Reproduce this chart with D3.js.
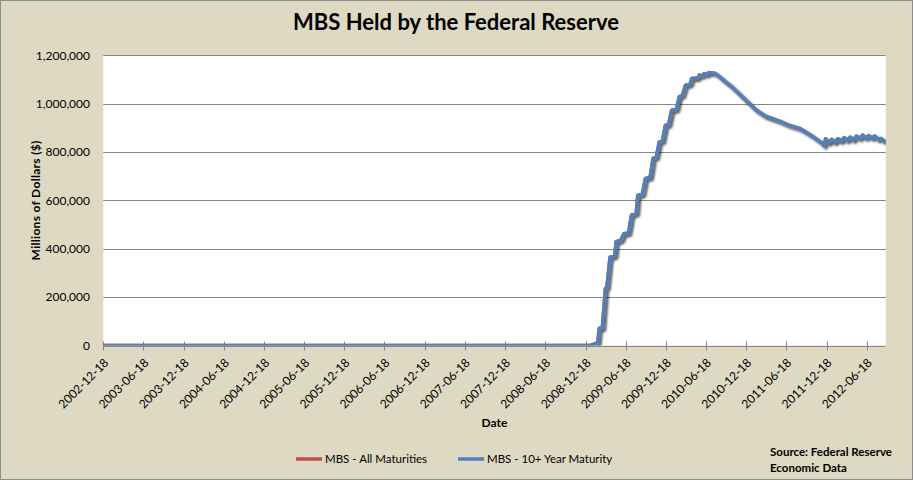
<!DOCTYPE html>
<html lang="en">
<head>
  <meta charset="UTF-8">
  <title>MBS Held by the Federal Reserve</title>
  <style>
    html, body { margin: 0; padding: 0; background: #DDD9C3; }
    svg { display: block; }
    text { font-family: Lato, "Open Sans", sans-serif; fill: #000; }
  </style>
</head>
<body>
  <div id="chart"></div>

  <script src="https://d3js.org/d3.v7.min.js"></script>
  <script>
    // Weekly H.4.1 readings (millions of $), corners
    const dates = [
      "2002-12-18", "2009-01-07", "2009-02-04", "2009-02-11", "2009-02-18",
      "2009-03-04", "2009-03-18", "2009-03-25", "2009-04-08", "2009-04-29",
      "2009-05-06", "2009-05-27", "2009-06-10", "2009-07-01", "2009-07-15",
      "2009-08-05", "2009-08-12", "2009-09-02", "2009-09-16", "2009-10-07",
      "2009-10-21", "2009-11-04", "2009-11-18", "2009-12-02", "2009-12-16",
      "2009-12-30", "2010-01-13", "2010-02-03", "2010-02-17", "2010-03-03",
      "2010-03-17", "2010-04-07", "2010-04-14", "2010-05-12", "2010-05-19",
      "2010-06-02", "2010-06-09", "2010-06-23", "2010-06-30", "2010-07-14",
      "2010-07-28", "2010-08-18", "2010-09-15", "2010-10-13", "2010-11-17",
      "2010-12-29", "2011-02-02", "2011-03-16", "2011-05-18", "2011-06-29",
      "2011-08-17", "2011-10-19", "2011-11-30", "2011-12-07", "2011-12-14",
      "2011-12-28", "2012-01-11", "2012-01-25", "2012-02-08", "2012-02-22",
      "2012-03-07", "2012-03-21", "2012-04-04", "2012-04-18", "2012-05-02",
      "2012-05-16", "2012-05-30", "2012-06-13", "2012-06-27", "2012-07-11",
      "2012-07-25", "2012-08-08", "2012-08-22", "2012-09-05", "2012-09-12"
    ];

    const mbsTenPlus = [
      0, 0, 9000, 10000, 71000,
      71000, 236000, 240000, 365000, 370000,
      429000, 435000, 462000, 465000, 540000,
      546000, 620000, 625000, 691000, 695000,
      775000, 778000, 842000, 845000, 911000,
      913000, 973000, 976000, 1028000, 1035000,
      1076000, 1080000, 1104000, 1106000, 1118000,
      1115000, 1124000, 1120000, 1128000, 1127000,
      1126000, 1112000, 1090000, 1070000, 1040000,
      1003000, 973000, 948000, 928000, 911000,
      898000, 863000, 835000, 826000, 855000,
      838000, 852000, 840000, 855000, 845000,
      860000, 848000, 862000, 850000, 866000,
      856000, 870000, 858000, 868000, 858000,
      866000, 852000, 856000, 845000, 842000
    ];

    // all maturities sits exactly under the 10+ year line in the picture
    const mbsAll = [
      0, 0, 9000, 10000, 71000,
      71000, 236000, 240000, 365000, 370000,
      429000, 435000, 462000, 465000, 540000,
      546000, 620000, 625000, 691000, 695000,
      775000, 778000, 842000, 845000, 911000,
      913000, 973000, 976000, 1028000, 1035000,
      1076000, 1080000, 1104000, 1106000, 1118000,
      1115000, 1124000, 1120000, 1128000, 1127000,
      1126000, 1112000, 1090000, 1070000, 1040000,
      1003000, 973000, 948000, 928000, 911000,
      898000, 863000, 835000, 826000, 855000,
      838000, 852000, 840000, 855000, 845000,
      860000, 848000, 862000, 850000, 866000,
      856000, 870000, 858000, 868000, 858000,
      866000, 852000, 856000, 845000, 842000
    ];

    const xTickLabels = [
      "2002-12-18", "2003-06-18", "2003-12-18", "2004-06-18", "2004-12-18",
      "2005-06-18", "2005-12-18", "2006-06-18", "2006-12-18", "2007-06-18",
      "2007-12-18", "2008-06-18", "2008-12-18", "2009-06-18", "2009-12-18",
      "2010-06-18", "2010-12-18", "2011-06-18", "2011-12-18", "2012-06-18"
    ];

    const yTicks = [0, 200000, 400000, 600000, 800000, 1000000, 1200000];

    const seriesNames = ["MBS - All Maturities", "MBS - 10+ Year Maturity"];
    const seriesColors = ["#C0504D", "#4F81BD"];

    // Layout
    const W = 913, H = 480;
    const plot = {left: 103.3, right: 885.7, top: 55.3, bottom: 345.5};

    const parse = d3.timeParse("%Y-%m-%d");

    const x = d3.scaleTime()
                .domain([parse(dates[0]), parse(dates[dates.length - 1])])
                .range([plot.left, plot.right]);
    const y = d3.scaleLinear()
                .domain([0, 1200000])
                .range([plot.bottom, plot.top]);

    const svg = d3.select("#chart").append("svg")
                  .attr("width", W)
                  .attr("height", H);

    // Chart area + border
    svg.append("rect")
       .attr("x", 0.5).attr("y", 0.5)
       .attr("width", W - 1).attr("height", H - 1)
       .attr("fill", "#DDD9C3")
       .attr("stroke", "#8C8C8C");

    const defs = svg.append("defs");
    defs.append("clipPath").attr("id", "plot-clip")
        .append("rect")
        .attr("x", plot.left).attr("y", plot.top - 10)
        .attr("width", plot.right - plot.left)
        .attr("height", plot.bottom - plot.top + 10);
    const shadow = defs.append("filter").attr("id", "shadow")
                       .attr("x", "-5%").attr("y", "-5%")
                       .attr("width", "110%").attr("height", "110%");
    shadow.append("feDropShadow")
          .attr("dx", 2).attr("dy", 2)
          .attr("stdDeviation", 1.2)
          .attr("flood-color", "#000")
          .attr("flood-opacity", 0.4);

    // Plot area
    svg.append("rect")
       .attr("x", plot.left).attr("y", plot.top)
       .attr("width", plot.right - plot.left)
       .attr("height", plot.bottom - plot.top)
       .attr("fill", "#fff");

    // Gridlines
    svg.append("g")
       .selectAll("line")
       .data(yTicks)
       .enter()
       .append("line")
       .attr("x1", plot.left).attr("x2", plot.right)
       .attr("y1", d => Math.round(y(d)) + 0.5)
       .attr("y2", d => Math.round(y(d)) + 0.5)
       .attr("stroke", "#868686")
       .attr("stroke-width", 1);

    // Y tick labels
    const fmt = d3.format(",");
    svg.append("g")
       .selectAll("text")
       .data(yTicks)
       .enter()
       .append("text")
       .attr("x", 90)
       .attr("y", d => y(d))
       .attr("dy", "0.35em")
       .attr("text-anchor", "end")
       .style("font-size", "12px")
       .text(d => fmt(d));

    // X tick marks (cross the axis)
    svg.append("g")
       .selectAll("line")
       .data(xTickLabels)
       .enter()
       .append("line")
       .attr("x1", d => Math.round(x(parse(d))) + 0.5)
       .attr("x2", d => Math.round(x(parse(d))) + 0.5)
       .attr("y1", plot.bottom - 4)
       .attr("y2", plot.bottom + 5)
       .attr("stroke", "#868686");

    // X tick labels, rotated
    svg.append("g")
       .selectAll("text")
       .data(xTickLabels)
       .enter()
       .append("text")
       .attr("transform", d => `translate(${x(parse(d)) + 3},${plot.bottom + 15}) rotate(-45)`)
       .attr("text-anchor", "end")
       .attr("dy", "0.35em")
       .style("font-size", "12px")
       .text(d => d);

    // Series, red underneath, blue on top
    const line = d3.line()
                   .x((d, i) => x(parse(dates[i])))
                   .y(d => y(d));

    const series = svg.append("g").attr("clip-path", "url(#plot-clip)");
    [mbsAll, mbsTenPlus].forEach((vals, i) => {
      series.append("path")
            .attr("d", line(vals))
            .attr("fill", "none")
            .attr("stroke", seriesColors[i])
            .attr("stroke-width", 3.5)
            .attr("stroke-linejoin", "round")
            .attr("stroke-linecap", "round")
            .attr("filter", "url(#shadow)");
    });

    // Title
    svg.append("text")
       .attr("x", 456)
       .attr("y", 30)
       .attr("text-anchor", "middle")
       .style("font-size", "22px")
       .style("font-weight", "bold")
       .text("MBS Held by the Federal Reserve");

    // Axis titles
    svg.append("text")
       .attr("x", (plot.left + plot.right) / 2)
       .attr("y", 423)
       .attr("dy", "0.35em")
       .attr("text-anchor", "middle")
       .style("font-size", "12px")
       .style("font-weight", "bold")
       .text("Date");

    svg.append("text")
       .attr("transform", `translate(36,${(plot.top + plot.bottom) / 2}) rotate(-90)`)
       .attr("text-anchor", "middle")
       .attr("dy", "0.35em")
       .style("font-size", "12px")
       .style("font-weight", "bold")
       .style("letter-spacing", "0.3px")
       .text("Millions of Dollars ($)");

    // Legend
    const legendX = [296, 458];
    const legend = svg.append("g");
    seriesNames.forEach((name, i) => {
      legend.append("line")
            .attr("x1", legendX[i]).attr("x2", legendX[i] + 26)
            .attr("y1", 459).attr("y2", 459)
            .attr("stroke", seriesColors[i])
            .attr("stroke-width", 3.5);
      legend.append("text")
            .attr("x", legendX[i] + 29)
            .attr("y", 459)
            .attr("dy", "0.35em")
            .style("font-size", "11.5px")
            .text(name);
    });

    // Source note
    const note = svg.append("text")
                    .attr("x", 770)
                    .style("font-size", "11.5px")
                    .style("font-weight", "bold");
    note.append("tspan").attr("x", 770).attr("y", 456).text("Source: Federal Reserve");
    note.append("tspan").attr("x", 770).attr("y", 472).text("Economic Data");
  </script>
</body>
</html>
